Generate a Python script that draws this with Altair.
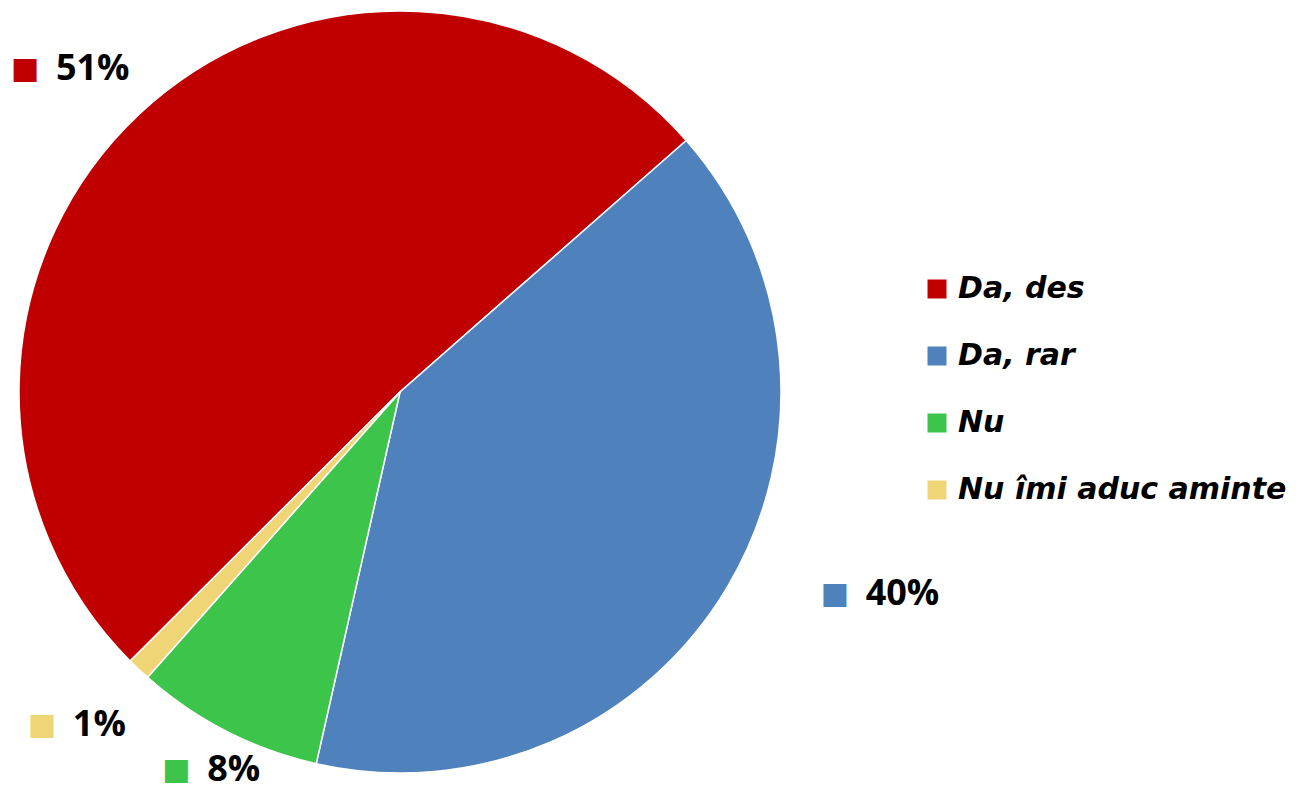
import math
import altair as alt
import pandas as pd

categories = ["Da, des", "Da, rar", "Nu", "Nu îmi aduc aminte"]
values = [51, 40, 8, 1]
labels = ["51%", "40%", "8%", "1%"]
colors = ["#C00000", "#4F81BD", "#3DC44B", "#F0D577"]
order = [0, 1, 2, 3]

df = pd.DataFrame({"cat": categories, "value": values, "label": labels, "order": order})

start = math.radians(225.1)
theta = alt.Theta("value:Q", stack=True, scale=alt.Scale(range=[start, start + 2 * math.pi]))
color_scale = alt.Scale(domain=categories, range=colors)

cx, cy = 392, 384

base = alt.Chart(df).encode(theta=theta, order=alt.Order("order:Q"))

pie = base.mark_arc(outerRadius=381, stroke="white", strokeWidth=1.5).encode(
    color=alt.Color(
        "cat:N",
        scale=color_scale,
        sort=categories,
        legend=alt.Legend(
            orient="none", legendX=914, legendY=266, title=None,
            symbolType="square", symbolSize=361, symbolStrokeWidth=0,
            labelFont="DejaVu Sans", labelFontSize=30, labelFontWeight="bold",
            labelFontStyle="italic", labelColor="black", rowPadding=37,
            labelOffset=6, padding=0, labelLimit=0,
        ),
    ),
    x=alt.value(cx), y=alt.value(cy),
)

# label nudges (style offsets from the slice mid-angle anchor)
nudges = {
    "Da, des": (-24, 2),
    "Da, rar": (99, -25),
    "Nu": (26, -18),
    "Nu îmi aduc aminte": (-6, 9),
}

layers = [pie]
for cat, (ndx, ndy) in nudges.items():
    sq = base.mark_text(
        radius=445, font="DejaVu Sans", fontSize=30, dx=-47 + ndx, dy=ndy,
        baseline="middle", align="center",
    ).encode(
        text=alt.value("■"),
        color=alt.Color("cat:N", scale=color_scale, legend=None),
        opacity=alt.condition(alt.datum.cat == cat, alt.value(1), alt.value(0)),
        x=alt.value(cx), y=alt.value(cy),
    )
    tx = base.mark_text(
        radius=445, font="Open Sans", fontSize=36, fontWeight="bold", dx=-16 + ndx, dy=ndy,
        baseline="middle", align="left", color="black",
    ).encode(
        text="label:N",
        opacity=alt.condition(alt.datum.cat == cat, alt.value(1), alt.value(0)),
        x=alt.value(cx), y=alt.value(cy),
    )
    layers += [sq, tx]

chart = alt.layer(*layers).properties(
    width=1289, height=783, autosize="none", padding=0, background="white"
).configure_view(stroke=None)

chart.save("out.html", embed_options={"renderer": "svg", "actions": False})
